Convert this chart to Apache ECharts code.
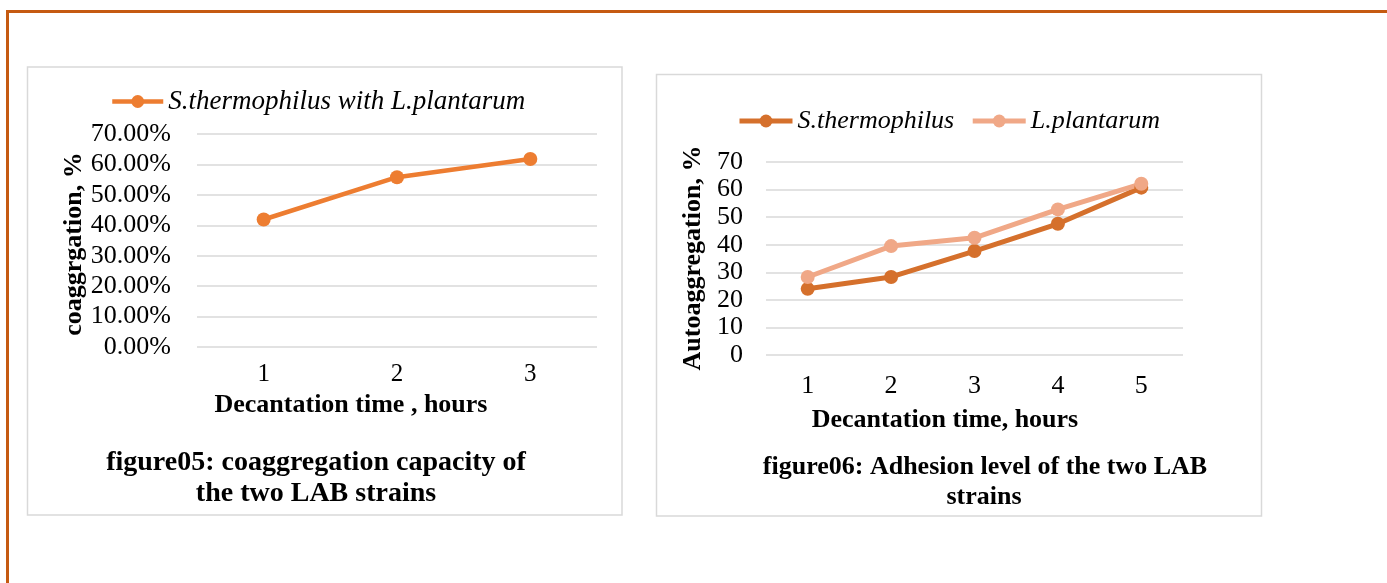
<!DOCTYPE html>
<html>
<head>
<meta charset="utf-8">
<script src="https://cdn.jsdelivr.net/npm/echarts@6/dist/echarts.min.js"></script>
<style>
html,body{margin:0;padding:0;background:#fff;}
#main{width:1387px;height:583px;}
</style>
</head>
<body>
<div id="main"></div>
<script>
// ---- data ----
const categories1 = ['1', '2', '3'];
const coaggregation = [0.419, 0.558, 0.618];
const seriesName1 = 'S.thermophilus with L.plantarum';

const categories2 = ['1', '2', '3', '4', '5'];
const sThermophilus = [24.0, 28.3, 37.7, 47.6, 60.7];
const lPlantarum = [28.3, 39.5, 42.5, 52.8, 62.1];
const seriesName2a = 'S.thermophilus';
const seriesName2b = 'L.plantarum';

const yTicks1 = [0, 0.1, 0.2, 0.3, 0.4, 0.5, 0.6, 0.7];
const yTicks2 = [0, 10, 20, 30, 40, 50, 60, 70];

const FONT = "'Liberation Serif', 'Times New Roman', serif";
const GRID = '#d9d9d9';
const C1 = '#ED7D31';
const C2a = '#D5702C';
const C2b = '#F0A887';

const chart = echarts.init(document.getElementById('main'), null, {renderer: 'canvas'});

function txt(x, y, text, size, opts) {
  return Object.assign({
    type: 'text', x: x, y: y, z: 10,
    style: Object.assign({
      text: text, fill: '#000', font: 'bold ' + size + 'px ' + FONT,
      textAlign: 'center', textVerticalAlign: 'middle'
    }, (opts && opts.style) || {})
  }, (opts && opts.el) || {});
}

const option = {
  backgroundColor: '#fff',
  animation: false,
  legend: [
    {
      data: [seriesName1], left: 110, top: 88, padding: 0,
      itemWidth: 51, itemHeight: 16, itemGap: 14,
      lineStyle: {width: 4.5},
      textStyle: {fontFamily: FONT, fontSize: 27, fontStyle: 'italic', color: '#000'}
    },
    {
      data: [seriesName2a, seriesName2b], left: 737, top: 108, padding: 0,
      itemWidth: 53, itemHeight: 16, itemGap: 16,
      lineStyle: {width: 5},
      textStyle: {fontFamily: FONT, fontSize: 26, fontStyle: 'italic', color: '#000'}
    }
  ],
  grid: [
    {left: 197, top: 134, width: 400, height: 213, containLabel: false},
    {left: 766, top: 162, width: 417, height: 193, containLabel: false}
  ],
  xAxis: [
    {
      type: 'category', gridIndex: 0, data: categories1, boundaryGap: true,
      axisLine: {show: false}, axisTick: {show: false},
      axisLabel: {fontFamily: FONT, fontSize: 25, color: '#000', margin: 15}
    },
    {
      type: 'category', gridIndex: 1, data: categories2, boundaryGap: true,
      axisLine: {show: false}, axisTick: {show: false},
      axisLabel: {fontFamily: FONT, fontSize: 26, color: '#000', margin: 18}
    }
  ],
  yAxis: [
    {
      type: 'value', gridIndex: 0, min: yTicks1[0], max: yTicks1[yTicks1.length - 1], interval: 0.1,
      axisLine: {show: false}, axisTick: {show: false},
      splitLine: {lineStyle: {color: GRID, width: 1.5}},
      axisLabel: {fontFamily: FONT, fontSize: 26, color: '#000', margin: 26,
        formatter: v => (v * 100).toFixed(2) + '%'}
    },
    {
      type: 'value', gridIndex: 1, min: yTicks2[0], max: yTicks2[yTicks2.length - 1], interval: 10,
      axisLine: {show: false}, axisTick: {show: false},
      splitLine: {lineStyle: {color: GRID, width: 1.5}},
      axisLabel: {fontFamily: FONT, fontSize: 26, color: '#000', margin: 23}
    }
  ],
  series: [
    {
      name: seriesName1, type: 'line', xAxisIndex: 0, yAxisIndex: 0, data: coaggregation,
      symbol: 'circle', symbolSize: 14,
      lineStyle: {color: C1, width: 4.5}, itemStyle: {color: C1}
    },
    {
      name: seriesName2a, type: 'line', xAxisIndex: 1, yAxisIndex: 1, data: sThermophilus,
      symbol: 'circle', symbolSize: 14,
      lineStyle: {color: C2a, width: 5}, itemStyle: {color: C2a}
    },
    {
      name: seriesName2b, type: 'line', xAxisIndex: 1, yAxisIndex: 1, data: lPlantarum,
      symbol: 'circle', symbolSize: 14,
      lineStyle: {color: C2b, width: 5}, itemStyle: {color: C2b}
    }
  ],
  graphic: [
    // page border
    {type: 'line', shape: {x1: 7.5, y1: 11.5, x2: 1387, y2: 11.5}, style: {stroke: '#C55A11', lineWidth: 3}},
    {type: 'line', shape: {x1: 7.5, y1: 10, x2: 7.5, y2: 583}, style: {stroke: '#C55A11', lineWidth: 3}},
    // chart boxes
    {type: 'rect', shape: {x: 27.5, y: 67, width: 594.5, height: 448}, style: {fill: 'none', stroke: GRID, lineWidth: 1.5}, z: -1},
    {type: 'rect', shape: {x: 656.5, y: 74.5, width: 605, height: 441.5}, style: {fill: 'none', stroke: GRID, lineWidth: 1.5}, z: -1},
    // chart 1 titles
    txt(351, 405, 'Decantation time , hours', 26),
    txt(74, 244, 'coaggrgation, %', 26, {el: {rotation: Math.PI / 2}}),
    txt(316, 463, 'figure05: coaggregation capacity of', 28),
    txt(316, 494, 'the two LAB strains', 28),
    // chart 2 titles
    txt(945, 420, 'Decantation time, hours', 26),
    txt(693, 258, 'Autoaggregation, %', 26, {el: {rotation: Math.PI / 2}}),
    txt(985, 467, 'figure06: Adhesion level of the two LAB', 26),
    txt(984, 497, 'strains', 26)
  ]
};
chart.setOption(option);
</script>
</body>
</html>
